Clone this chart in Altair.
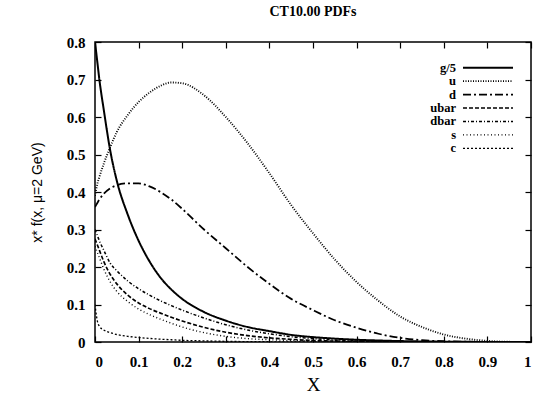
import altair as alt
import pandas as pd

# ---- data ----
xs = [0, 0.005, 0.01, 0.02, 0.035, 0.05, 0.075, 0.1, 0.125, 0.15, 0.175, 0.2, 0.25, 0.3,
      0.35, 0.4, 0.45, 0.5, 0.55, 0.6, 0.65, 0.7, 0.75, 0.8, 0.85, 0.9, 0.95, 1.0]

g5 = [0.80, 0.75, 0.70, 0.62, 0.51, 0.43, 0.34, 0.27, 0.215, 0.172, 0.14, 0.115, 0.08, 0.057,
      0.04, 0.029, 0.019, 0.013, 0.009, 0.006, 0.004, 0.0025, 0.0015, 0.0008, 0.0004, 0.0002, 0.0001, 0]
u = [0.39, 0.42, 0.44, 0.475, 0.52, 0.56, 0.605, 0.64, 0.665, 0.683, 0.692, 0.69, 0.658, 0.60,
     0.53, 0.45, 0.365, 0.29, 0.22, 0.16, 0.11, 0.068, 0.04, 0.02, 0.009, 0.003, 0.0005, 0]
d = [0.36, 0.37, 0.38, 0.395, 0.41, 0.418, 0.423, 0.423, 0.415, 0.40, 0.38, 0.355, 0.30, 0.25,
     0.20, 0.155, 0.115, 0.085, 0.058, 0.038, 0.022, 0.011, 0.005, 0.002, 0.0008, 0.0002, 0, 0]
ubar = [0.275, 0.26, 0.245, 0.215, 0.18, 0.155, 0.125, 0.104, 0.089, 0.077, 0.066, 0.056, 0.039, 0.026,
        0.017, 0.011, 0.007, 0.004, 0.0025, 0.0015, 0.0008, 0.0003, 0.0001, 0, 0, 0, 0, 0]
dbar = [0.30, 0.285, 0.27, 0.245, 0.21, 0.19, 0.163, 0.142, 0.125, 0.11, 0.097, 0.085, 0.064, 0.046,
        0.032, 0.022, 0.014, 0.009, 0.005, 0.003, 0.0015, 0.0008, 0.0003, 0.0001, 0, 0, 0, 0]
s = [0.255, 0.24, 0.225, 0.195, 0.16, 0.135, 0.108, 0.088, 0.073, 0.061, 0.05, 0.04, 0.025, 0.015,
     0.009, 0.006, 0.004, 0.0025, 0.0015, 0.0008, 0.0004, 0.0002, 0.0001, 0, 0, 0, 0, 0]
c = [0.10, 0.058, 0.042, 0.032, 0.025, 0.02, 0.015, 0.012, 0.0095, 0.0075, 0.006, 0.0045, 0.003, 0.0018,
     0.001, 0.0006, 0.0003, 0.0001, 0, 0, 0, 0, 0, 0, 0, 0, 0, 0]

names = ["g/5", "u", "d", "ubar", "dbar", "s", "c"]
series = [g5, u, d, ubar, dbar, s, c]

x_ticks = [0, 0.1, 0.2, 0.3, 0.4, 0.5, 0.6, 0.7, 0.8, 0.9, 1.0]
y_ticks = [0, 0.1, 0.2, 0.3, 0.4, 0.5, 0.6, 0.7, 0.8]

# ---- styling ----
dashes = [[1, 0], [1, 1.5], [8, 3, 2, 3], [4, 2], [3, 2, 1, 2], [1, 2.5], [2, 2]]
widths = [2.0, 1.3, 1.3, 1.3, 1.3, 1.3, 1.3]
W, H = 436, 300
TL = 6  # inward tick length (axes shifted inside by TL so ticks point inward)

rows = []
for n, vals in zip(names, series):
    for xv, yv in zip(xs, vals):
        rows.append({"x": xv, "y": yv, "series": n})
df = pd.DataFrame(rows)

xscale = alt.Scale(domain=[0, 1], nice=False)
yscale = alt.Scale(domain=[0, 0.8], nice=False)
dash_scale = alt.Scale(domain=names, range=dashes)
width_scale = alt.Scale(domain=names, range=widths)

serif = "Liberation Serif"

lines = alt.Chart(df).mark_line(interpolate="monotone", color="black", clip=True).encode(
    x=alt.X("x:Q", scale=xscale,
            axis=alt.Axis(title="X", values=x_ticks, format="~g", grid=False, ticks=True,
                          tickSize=TL, offset=-TL, domain=False, labelPadding=12, titlePadding=6)),
    y=alt.Y("y:Q", scale=yscale,
            axis=alt.Axis(title="x* f(x, \u03bc=2 GeV)", values=y_ticks, format="~g", grid=False,
                          ticks=True, tickSize=TL, offset=-TL, domain=False, labelPadding=10,
                          titlePadding=22)),
    strokeDash=alt.StrokeDash("series:N", scale=dash_scale, legend=None),
    strokeWidth=alt.StrokeWidth("series:N", scale=width_scale, legend=None),
    detail="series:N",
)

# top and right frame ticks (inward) via mirrored axes with no labels
xt = pd.DataFrame({"tx": x_ticks})
yt = pd.DataFrame({"ty": y_ticks})
top_axis = alt.Chart(xt).mark_point(opacity=0).encode(
    x=alt.X("tx:Q", scale=xscale,
            axis=alt.Axis(orient="top", values=x_ticks, labels=False, title=None, grid=False,
                          domain=False, ticks=True, tickSize=TL, offset=-TL)))
right_axis = alt.Chart(yt).mark_point(opacity=0).encode(
    y=alt.Y("ty:Q", scale=yscale,
            axis=alt.Axis(orient="right", values=y_ticks, labels=False, title=None, grid=False,
                          domain=False, ticks=True, tickSize=TL, offset=-TL)))

# legend (inside, top right)
leg = pd.DataFrame({"series": names})
leg_y = alt.Y("series:N", scale=alt.Scale(domain=names, range=[19, 113]), axis=None)
leg_text = alt.Chart(leg).mark_text(align="right", baseline="middle", font=serif,
                                    fontSize=12.5, fontWeight="bold", color="black").encode(
    x=alt.value(361), y=leg_y, text="series:N")
leg_line = alt.Chart(leg).mark_rule(color="black").encode(
    x=alt.value(368), x2=alt.value(418), y=leg_y,
    strokeDash=alt.StrokeDash("series:N", scale=dash_scale, legend=None),
    strokeWidth=alt.StrokeWidth("series:N", scale=width_scale, legend=None),
)

legend_layer = alt.layer(leg_line, leg_text)

chart = alt.layer(
    lines, top_axis, right_axis, legend_layer
).resolve_scale(y="independent").resolve_axis(x="independent", y="independent").properties(
    width=W, height=H,
    title=alt.TitleParams("CT10.00 PDFs", font=serif, fontSize=14, fontWeight="bold",
                          anchor="middle", offset=16, color="black"),
    autosize=alt.AutoSizeParams(type="none"),
    padding={"left": 95, "top": 42, "right": 3, "bottom": 54},
).configure_view(stroke="black", strokeWidth=1.5).configure_axis(
    labelFont=serif, labelFontSize=15, labelFontWeight="bold", labelColor="black",
    titleColor="black", tickColor="black", tickWidth=1.2,
).configure_axisX(titleFont=serif, titleFontSize=19, titleFontWeight="normal") \
 .configure_axisY(titleFont="Liberation Sans", titleFontSize=14, titleFontWeight="normal")

chart.save("out.html", embed_options={"renderer": "svg", "actions": False})
